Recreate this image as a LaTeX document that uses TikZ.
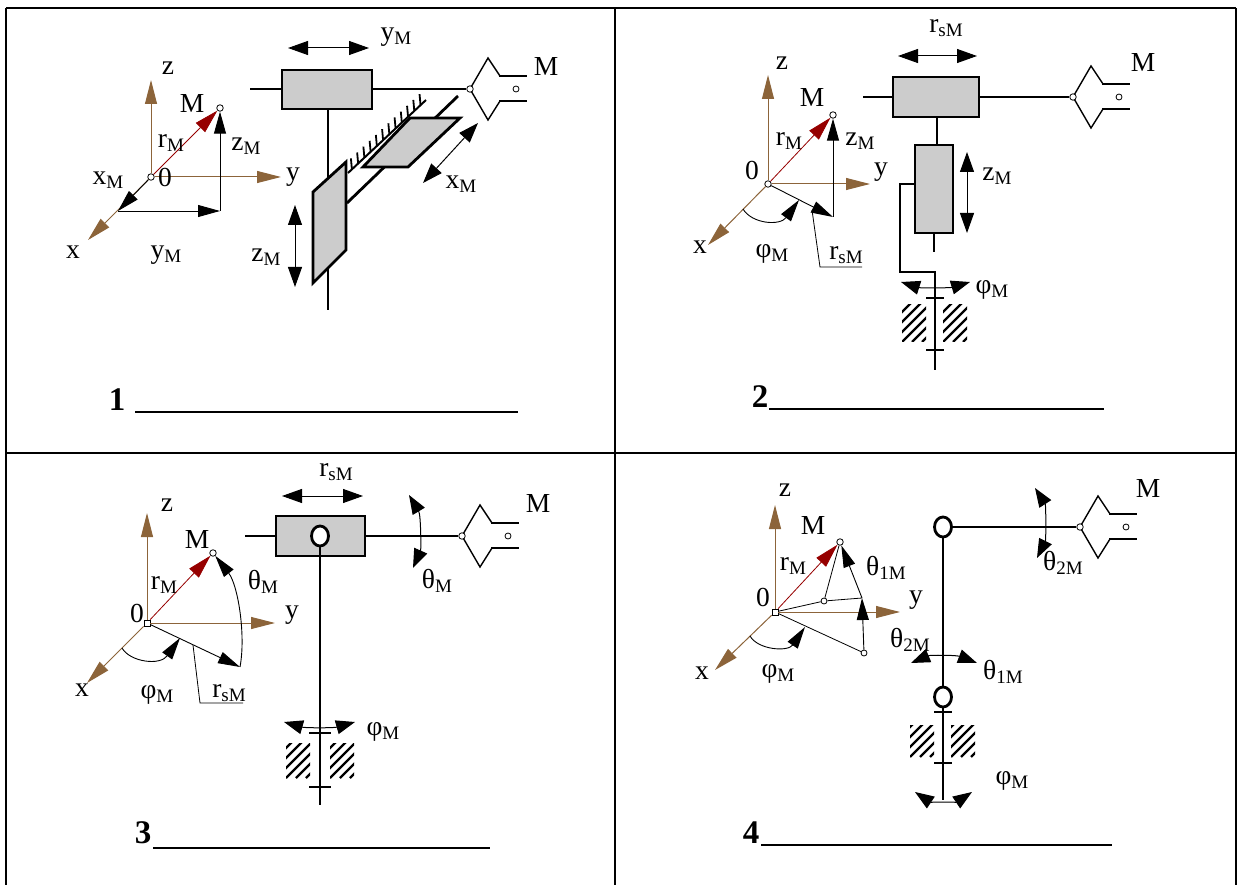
\documentclass[tikz,border=0pt]{standalone}
\usepackage{fontspec}
\setmainfont{Liberation Serif}
\usetikzlibrary{arrows.meta,calc,shapes.geometric}
\definecolor{axbrown}{RGB}{140,100,58}
\definecolor{rvred}{RGB}{150,0,0}
\definecolor{partgray}{RGB}{204,204,204}
\newcommand{\lowidx}[1]{\raisebox{-4pt}{\fontsize{19}{19}\selectfont #1}}
\tikzset{
  lbl/.style={font=\fontsize{27.5}{29}\selectfont, inner sep=0pt},
  num/.style={font=\fontsize{33}{35}\selectfont\bfseries, inner sep=0pt},
  axis/.style={draw=axbrown, line width=1pt, -{Triangle[length=24pt,width=12pt]}},
  rvec/.style={draw=rvred, line width=0.8pt, -{Triangle[length=24pt,width=13pt]}},
  comp/.style={line width=0.9pt, -{Triangle[length=22pt,width=12pt]}},
  thinline/.style={line width=0.8pt},
  dbl/.style={line width=1pt, {Triangle[length=20pt,width=14pt]}-{Triangle[length=20pt,width=14pt]}},
  rot/.style={line width=1pt, {Triangle[length=19pt,width=14pt]}-{Triangle[length=19pt,width=14pt]}},
  mech/.style={line width=2.8pt},
  part/.style={draw, fill=partgray, line width=2.8pt},
  grip/.style={line width=1.4pt},
  jaw/.style={line width=2.6pt},
  jnt/.style={circle, draw, fill=white, line width=0.8pt, inner sep=0pt, minimum size=6.5pt},
  sqjnt/.style={rectangle, draw, fill=white, line width=0.8pt, inner sep=0pt, minimum size=6pt},
  hinge/.style={ellipse, draw, fill=white, line width=2.8pt, inner sep=0pt, minimum width=17pt, minimum height=20pt},
  frame/.style={line width=2.5pt},
  hatch/.style={line width=2.2pt},
  blank/.style={line width=1.5pt},
}
\begin{document}
\begin{tikzpicture}[x=1pt,y=-1pt]
\useasboundingbox (0,0) rectangle (1240,885);

\draw[frame] (6,8) -- (1236,8);
\draw[frame] (6,8) -- (6,885);
\draw[frame] (1236,8) -- (1236,885);
\draw[frame] (615,8) -- (615,885);
\draw[frame] (6,453) -- (1236,453);

% grippers
\foreach \gx/\gy [count=\i] in {470/89, 1073/97, 462/536, 1080/527} {
  \draw[grip] (\gx,\gy) -- (\gx+18,\gy-31) -- (\gx+30,\gy-13);
  \draw[grip] (\gx,\gy) -- (\gx+18,\gy+31) -- (\gx+30,\gy+12);
  \draw[jaw] (\gx+29,\gy-13) -- (\gx+57,\gy-13);
  \draw[jaw] (\gx+29,\gy+12) -- (\gx+57,\gy+12);
  \node[jnt, minimum size=6pt] (g\i) at (\gx+46,\gy) {};
}

% bearings
\foreach \hx/\hy/\hh in {902/305/37, 943/305/37, 286/743/35, 330/743/35, 910/725/32, 951/725/32} {
  \begin{scope}
    \clip (\hx,\hy) rectangle ++(24,\hh);
    \foreach \d in {-50,-40,...,30} \draw[hatch] (\hx+\d,\hy+\hh) -- ++(45,-45);
  \end{scope}
}

% ---------- 1
\node[jnt] (O1) at (151,177) {};
\node[jnt] (M1) at (220,108) {};
\coordinate (Z1) at (151,80);
\coordinate (Y1) at (281,177);
\coordinate (X1) at (88,240);
\coordinate (Q1) at (118,211);
\coordinate (P1) at (220,211);
\draw[axis] (O1) -- (Z1);
\draw[axis] (O1) -- (Y1);
\draw[axis] (O1) -- (X1);
\draw[comp] (O1) -- (Q1);
\draw[comp] (Q1) -- (P1);
\draw[comp] (P1) -- (M1);
\draw[rvec] (O1) -- (M1);
\node[lbl] (z1) at (168,68) {z};
\node[lbl] (y1) at (293,177) {y};
\node[lbl] (x1) at (73,252) {x};
\node[lbl] (o1) at (165,177) {0};
\node[lbl] (m1) at (192,103) {M};
\node[lbl] (r1) at (171,143) {r\lowidx{M}};
\node[lbl] (zm1) at (246,146) {z\lowidx{M}};
\node[lbl] (xm1) at (108,180) {x\lowidx{M}};
\node[lbl] (ym1) at (166,255) {y\lowidx{M}};

\coordinate (R1) at (348,173);
\coordinate (R2) at (426,100);
\draw[mech] (347,203) -- (458,96);
\draw[line width=2pt] (R1) -- (R2);
\foreach \t in {0.05,0.13,...,1.0} \draw[line width=1.8pt] ($(R1)!\t!(R2)$) -- ++(-1,-11);
\draw[part] (363,167) -- (410,118) -- (460,118) -- (408,167) -- cycle;
\draw[mech] (328,109) -- (328,310);
\draw[part] (313,192) -- (346,162) -- (346,250) -- (313,283) -- cycle;
\node[jnt] (G1) at (470,89) {};
\draw[mech] (250,89) -- (G1);
\draw[part] (282,70) rectangle (372,109);
\draw[dbl] (288,48) -- (369,48);
\draw[dbl] (423,183) -- (478,123);
\draw[dbl] (295,205) -- (295,287);
\node[lbl] (ym1b) at (396,37) {y\lowidx{M}};
\node[lbl] (xm1b) at (461,184) {x\lowidx{M}};
\node[lbl] (zm1b) at (266,257) {z\lowidx{M}};
\node[lbl] (mg1) at (546,67) {M};
\node[num] (n1) at (117,400) {1};
\draw[blank] (135,412) -- (518,412);

% ---------- 2
\node[jnt] (O2) at (768,184) {};
\node[jnt] (M2) at (833,115) {};
\coordinate (Z2) at (768,75);
\coordinate (Y2) at (870,184);
\coordinate (X2) at (708,245);
\coordinate (P2) at (833,217);
\draw[axis] (O2) -- (Z2);
\draw[axis] (O2) -- (Y2);
\draw[axis] (O2) -- (X2);
\draw[comp] (O2) -- (P2);
\draw[comp] (P2) -- (M2);
\draw[rvec] (O2) -- (M2);
\draw[comp] (743,209) .. controls (752,224) and (780,226) .. (799,200);
\draw[thinline] (812,210) -- (820,267) -- (862,267);
\node[lbl] (z2) at (782,63) {z};
\node[lbl] (y2) at (881,172) {y};
\node[lbl] (x2) at (700,247) {x};
\node[lbl] (o2) at (752,170) {0};
\node[lbl] (m2) at (812,97) {M};
\node[lbl] (r2) at (789,141) {r\lowidx{M}};
\node[lbl] (zm2) at (860,141) {z\lowidx{M}};
\node[lbl] (fm2) at (772,254) {φ\lowidx{M}};
\node[lbl] (rs2) at (846,255) {r\lowidx{sM}};

\node[jnt] (G2) at (1073,97) {};
\draw[mech] (863,97) -- (G2);
\draw[mech] (937,117) -- (937,145);
\draw[mech] (934,233) -- (934,252);
\draw[mech] (915,184) -- (900,184) -- (900,272) -- (935,272) -- (935,370);
\draw[part] (893,77) rectangle (979,117);
\draw[part] (915,145) rectangle (953,233);
\draw[mech] (926,298) -- (944,298);
\draw[mech] (926,350) -- (944,350);
\draw[dbl] (898,56) -- (977,56);
\draw[dbl] (967,152) -- (967,233);
\draw[rot] (901,282) .. controls (920,288) and (950,288) .. (970,282);
\node[lbl] (rs2b) at (946,28) {r\lowidx{sM}};
\node[lbl] (zm2b) at (997,176) {z\lowidx{M}};
\node[lbl] (fm2b) at (992,290) {φ\lowidx{M}};
\node[lbl] (mg2) at (1143,62) {M};
\node[num] (n2) at (760,397) {2};
\draw[blank] (769,409) -- (1104,409);

% ---------- 3
\node[sqjnt] (O3) at (147,623) {};
\node[jnt] (M3) at (213,553) {};
\coordinate (Z3) at (147,513);
\coordinate (Y3) at (275,623);
\coordinate (X3) at (87,683);
\coordinate (P3) at (240,667);
\draw[axis] (O3) -- (Z3);
\draw[axis] (O3) -- (Y3);
\draw[axis] (O3) -- (X3);
\draw[comp] (O3) -- (P3);
\draw[comp] (P3) .. controls (246,635) and (238,585) .. (M3);
\draw[rvec] (O3) -- (M3);
\draw[comp] (122,648) .. controls (130,662) and (160,666) .. (180,638);
\draw[thinline] (193,645) -- (200,703) -- (243,703);
\node[lbl] (z3) at (167,505) {z};
\node[lbl] (y3) at (292,615) {y};
\node[lbl] (x3) at (82,690) {x};
\node[lbl] (o3) at (137,613) {0};
\node[lbl] (m3) at (197,539) {M};
\node[lbl] (r3) at (164,585) {r\lowidx{M}};
\node[lbl] (tm3) at (263,582) {θ\lowidx{M}};
\node[lbl] (fm3) at (157,695) {φ\lowidx{M}};
\node[lbl] (rs3) at (229,693) {r\lowidx{sM}};

\node[jnt] (G3) at (462,536) {};
\draw[mech] (245,536) -- (G3);
\draw[part] (276,516) rectangle (365,556);
\draw[mech] (320,545) -- (320,805);
\node[hinge] (H3) at (320,536) {};
\draw[mech] (309,733) -- (331,733);
\draw[mech] (309,787) -- (331,787);
\draw[dbl] (282,496) -- (363,496);
\draw[rot] (409,495) .. controls (421,515) and (421,550) .. (413,568);
\draw[rot] (284,722) .. controls (305,728) and (334,728) .. (355,722);
\node[lbl] (rs3b) at (336,472) {r\lowidx{sM}};
\node[lbl] (tm3b) at (437,581) {θ\lowidx{M}};
\node[lbl] (fm3b) at (383,732) {φ\lowidx{M}};
\node[lbl] (mg3) at (538,503) {M};
\node[num] (n3) at (143,833) {3};
\draw[blank] (153,848) -- (490,848);

% ---------- 4
\node[sqjnt] (O4) at (775,612) {};
\node[jnt] (M4) at (840,542) {};
\node[jnt, minimum size=6pt] (A4) at (824,601) {};
\node[jnt, minimum size=6pt] (C4) at (864,653) {};
\coordinate (Z4) at (775,505);
\coordinate (Y4) at (900,612);
\coordinate (X4) at (715,670);
\coordinate (B4) at (862,598);
\draw[axis] (O4) -- (Z4);
\draw[axis] (O4) -- (Y4);
\draw[axis] (O4) -- (X4);
\draw[thinline] (O4) -- (A4) -- (B4);
\draw[thinline] (A4) -- (M4);
\draw[thinline] (O4) -- (C4);
\draw[comp] (B4) -- (M4);
\draw[comp] (C4) -- (B4);
\draw[rvec] (O4) -- (M4);
\draw[comp] (750,636) .. controls (758,650) and (788,652) .. (805,627);
\node[lbl] (z4) at (785,490) {z};
\node[lbl] (y4) at (916,600) {y};
\node[lbl] (x4) at (702,673) {x};
\node[lbl] (o4) at (763,597) {0};
\node[lbl] (m4) at (813,525) {M};
\node[lbl] (r4) at (793,566) {r\lowidx{M}};
\node[lbl] (t14) at (886,568) {θ\lowidx{1M}};
\node[lbl] (t24) at (910,640) {θ\lowidx{2M}};
\node[lbl] (fm4) at (778,674) {φ\lowidx{M}};

\node[jnt] (G4) at (1080,527) {};
\draw[mech] (943,527) -- (G4);
\draw[mech] (943,527) -- (943,800);
\node[hinge] (J1) at (943,527) {};
\node[hinge] (J2) at (943,697) {};
\draw[mech] (934,712) -- (952,712);
\draw[mech] (934,763) -- (952,763);
\draw[rot] (1035,488) .. controls (1046,505) and (1046,540) .. (1037,558);
\draw[rot] (911,663) .. controls (930,655) and (956,655) .. (977,663);
\draw[rot] (915,792) .. controls (930,802) and (957,802) .. (972,792);
\node[lbl] (t24b) at (1063,563) {θ\lowidx{2M}};
\node[lbl] (t14b) at (1003,672) {θ\lowidx{1M}};
\node[lbl] (fm4b) at (1012,781) {φ\lowidx{M}};
\node[lbl] (mg4) at (1148,488) {M};
\node[num] (n4) at (751,833) {4};
\draw[blank] (761,845) -- (1112,845);
\end{tikzpicture}
\end{document}
